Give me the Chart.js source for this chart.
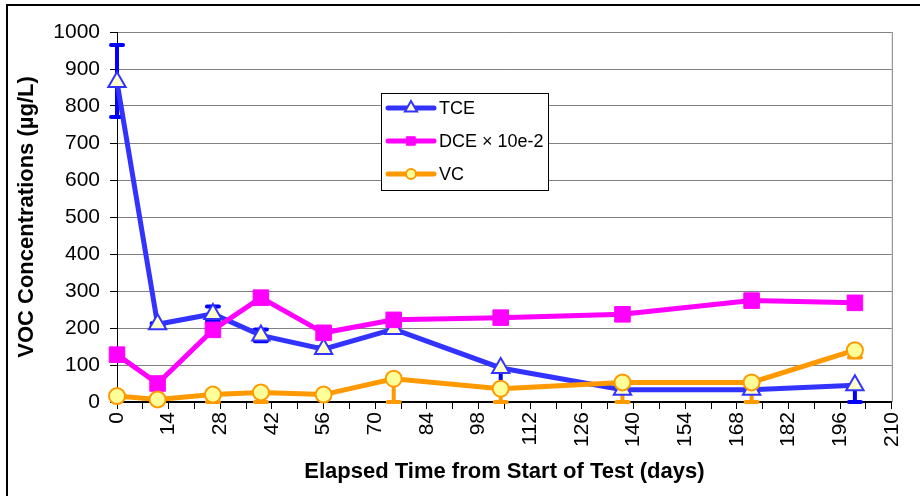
<!DOCTYPE html>
<html>
<head>
<meta charset="utf-8">
<script src="https://cdn.jsdelivr.net/npm/chart.js"></script>
<style>
  html, body { margin: 0; padding: 0; background: #ffffff; }
  #box { width: 920px; height: 496px; }
</style>
</head>
<body>
<div id="box"><canvas id="grafico" width="920" height="496"></canvas></div>
<script>
// dias decorridos desde o inicio do teste
var dias = [0, 11, 26, 39, 56, 75, 104, 137, 172, 200];

// concentracoes (ug/L)
var tce = [865, 210, 238, 180, 143, 197, 92, 33, 33, 45];
var dce = [128, 50, 195, 282, 187, 222, 228, 237, 274, 268];
var vc  = [16, 7, 20, 26, 20, 63, 36, 53, 53, 140];

// barras de erro (acima / abaixo)
var tceErroMais  = [100, 3, 20, 16, 5, 0, 0, 0, 0, 0];
var tceErroMenos = [95, 3, 20, 16, 5, 0, 55, 0, 0, 45];
var vcErroMais   = [0, 0, 0, 0, 0, 0, 0, 0, 0, 0];
var vcErroMenos  = [0, 0, 20, 26, 0, 63, 36, 53, 53, 20];

var nomes = ['TCE', 'DCE \u00d7 10e-2', 'VC'];

var fonte = "'Liberation Sans', Arial, sans-serif";

function pontos(valores) {
    return dias.map(function (d, i) { return { x: d, y: valores[i] }; });
}

var datasets = [
    {
        label: nomes[0], data: pontos(tce), order: 3, clip: false,
        borderColor: '#3333FF', borderWidth: 5,
        pointStyle: 'triangle', pointRadius: 10, legendaRaio: 7,
        pointBackgroundColor: '#FFFFCC', pointBorderColor: '#3333FF', pointBorderWidth: 2,
        erroMais: tceErroMais, erroMenos: tceErroMenos, corErro: '#0000FF'
    },
    {
        label: nomes[1], data: pontos(dce), order: 2, clip: false,
        borderColor: '#FF00FF', borderWidth: 5,
        pointStyle: 'rect', pointRadius: 11, legendaRaio: 6,
        pointBackgroundColor: '#FF00FF', pointBorderColor: '#FF00FF', pointBorderWidth: 1
    },
    {
        label: nomes[2], data: pontos(vc), order: 1, clip: false,
        borderColor: '#FF9900', borderWidth: 5,
        pointStyle: 'circle', pointRadius: 8, legendaRaio: 5,
        pointBackgroundColor: '#FFFF99', pointBorderColor: '#FF9900', pointBorderWidth: 2,
        erroMais: vcErroMais, erroMenos: vcErroMenos, corErro: '#FF9900'
    }
];

// fundo, moldura externa e borda direita da area do grafico
var pluginMoldura = {
    id: 'moldura',
    beforeDraw: function (chart) {
        var ctx = chart.ctx;
        ctx.save();
        ctx.fillStyle = '#ffffff';
        ctx.fillRect(0, 0, chart.width, chart.height);
        ctx.strokeStyle = '#000000';
        ctx.lineWidth = 2;
        ctx.beginPath();
        ctx.moveTo(7, chart.height);
        ctx.lineTo(7, 5);
        ctx.lineTo(chart.width, 5);
        ctx.stroke();
        ctx.restore();
    },
    beforeDatasetsDraw: function (chart) {
        var ctx = chart.ctx;
        var a = chart.chartArea;
        ctx.save();
        ctx.strokeStyle = '#808080';
        ctx.lineWidth = 1;
        ctx.beginPath();
        ctx.moveTo(a.right + 0.5, a.top);
        ctx.lineTo(a.right + 0.5, a.bottom);
        ctx.stroke();
        ctx.restore();
    }
};

// barras de erro desenhadas pelas escalas do proprio grafico
var pluginErros = {
    id: 'erros',
    beforeDatasetsDraw: function (chart) {
        var ctx = chart.ctx;
        var sx = chart.scales.x, sy = chart.scales.y;
        ctx.save();
        chart.data.datasets.forEach(function (ds) {
            if (!ds.erroMais) return;
            ctx.strokeStyle = ds.corErro;
            ctx.lineWidth = 4;
            ctx.lineCap = 'round';
            ds.data.forEach(function (p, i) {
                var mais = ds.erroMais[i], menos = ds.erroMenos[i];
                if (!mais && !menos) return;
                var x = sx.getPixelForValue(p.x);
                var y1 = sy.getPixelForValue(p.y + mais);
                var y2 = sy.getPixelForValue(p.y - menos);
                ctx.beginPath();
                ctx.moveTo(x, y1);
                ctx.lineTo(x, y2);
                if (mais) { ctx.moveTo(x - 6, y1); ctx.lineTo(x + 6, y1); }
                if (menos) { ctx.moveTo(x - 6, y2); ctx.lineTo(x + 6, y2); }
                ctx.stroke();
            });
        });
        ctx.restore();
    }
};

// legenda dentro da area do grafico
var pluginLegenda = {
    id: 'legendaInterna',
    afterDatasetsDraw: function (chart) {
        var ctx = chart.ctx;
        var bx = 381, by = 93, bw = 167, bh = 97;
        ctx.save();
        ctx.fillStyle = '#ffffff';
        ctx.fillRect(bx, by, bw, bh);
        ctx.strokeStyle = '#000000';
        ctx.lineWidth = 1;
        ctx.strokeRect(bx + 0.5, by + 0.5, bw, bh);
        chart.data.datasets.forEach(function (ds, i) {
            var y = by + 15 + i * 33;
            ctx.strokeStyle = ds.borderColor;
            ctx.lineWidth = 5;
            ctx.lineCap = 'round';
            ctx.beginPath();
            ctx.moveTo(388, y);
            ctx.lineTo(434, y);
            ctx.stroke();
            ctx.fillStyle = ds.pointBackgroundColor;
            ctx.strokeStyle = ds.pointBorderColor;
            ctx.lineWidth = ds.pointBorderWidth;
            Chart.helpers.drawPoint(ctx, {
                pointStyle: ds.pointStyle, rotation: 0,
                radius: ds.legendaRaio, borderWidth: ds.pointBorderWidth
            }, 411, y);
            ctx.fillStyle = '#000000';
            ctx.font = '18px ' + fonte;
            ctx.textAlign = 'left';
            ctx.textBaseline = 'middle';
            ctx.fillText(ds.label, 439, y + 1);
        });
        ctx.restore();
    }
};

var ctx = document.getElementById('grafico').getContext('2d');
var grafico = new Chart(ctx, {
    type: 'line',
    data: { datasets: datasets },
    plugins: [pluginMoldura, pluginErros, pluginLegenda],
    options: {
        responsive: false,
        animation: false,
        layout: { padding: { left: 0, top: 32, right: 17, bottom: 0 } },
        plugins: {
            legend: { display: false },
            tooltip: { enabled: false }
        },
        elements: { line: { tension: 0 } },
        scales: {
            x: {
                type: 'linear', min: 0, max: 210,
                afterFit: function (s) { s.height = 94; },
                border: { color: '#000000', width: 2 },
                grid: { drawOnChartArea: false, drawTicks: true, tickLength: 7, tickColor: '#000000' },
                ticks: {
                    stepSize: 7, autoSkip: false, minRotation: 90, maxRotation: 90, padding: 3,
                    color: '#000000', font: { family: fonte, size: 21 },
                    callback: function (v) { return v % 14 === 0 ? String(v) : ''; }
                },
                title: {
                    display: true, text: 'Elapsed Time from Start of Test (days)',
                    color: '#000000', font: { family: fonte, size: 22, weight: 'bold' },
                    padding: { top: 0, bottom: 11 }
                }
            },
            y: {
                min: 0, max: 1000,
                afterFit: function (s) { s.width = 117; },
                border: { color: '#000000', width: 1 },
                grid: { color: '#808080', lineWidth: 1, tickLength: 7, tickColor: '#000000' },
                ticks: {
                    stepSize: 100, padding: 10,
                    color: '#000000', font: { family: fonte, size: 21 },
                    callback: function (v) { return String(v); }
                },
                title: {
                    display: true, text: 'VOC Concentrations (\u00b5g/L)',
                    color: '#000000', font: { family: fonte, size: 22, weight: 'bold' },
                    padding: { top: 14, bottom: 0 }
                }
            }
        }
    }
});
</script>
</body>
</html>
